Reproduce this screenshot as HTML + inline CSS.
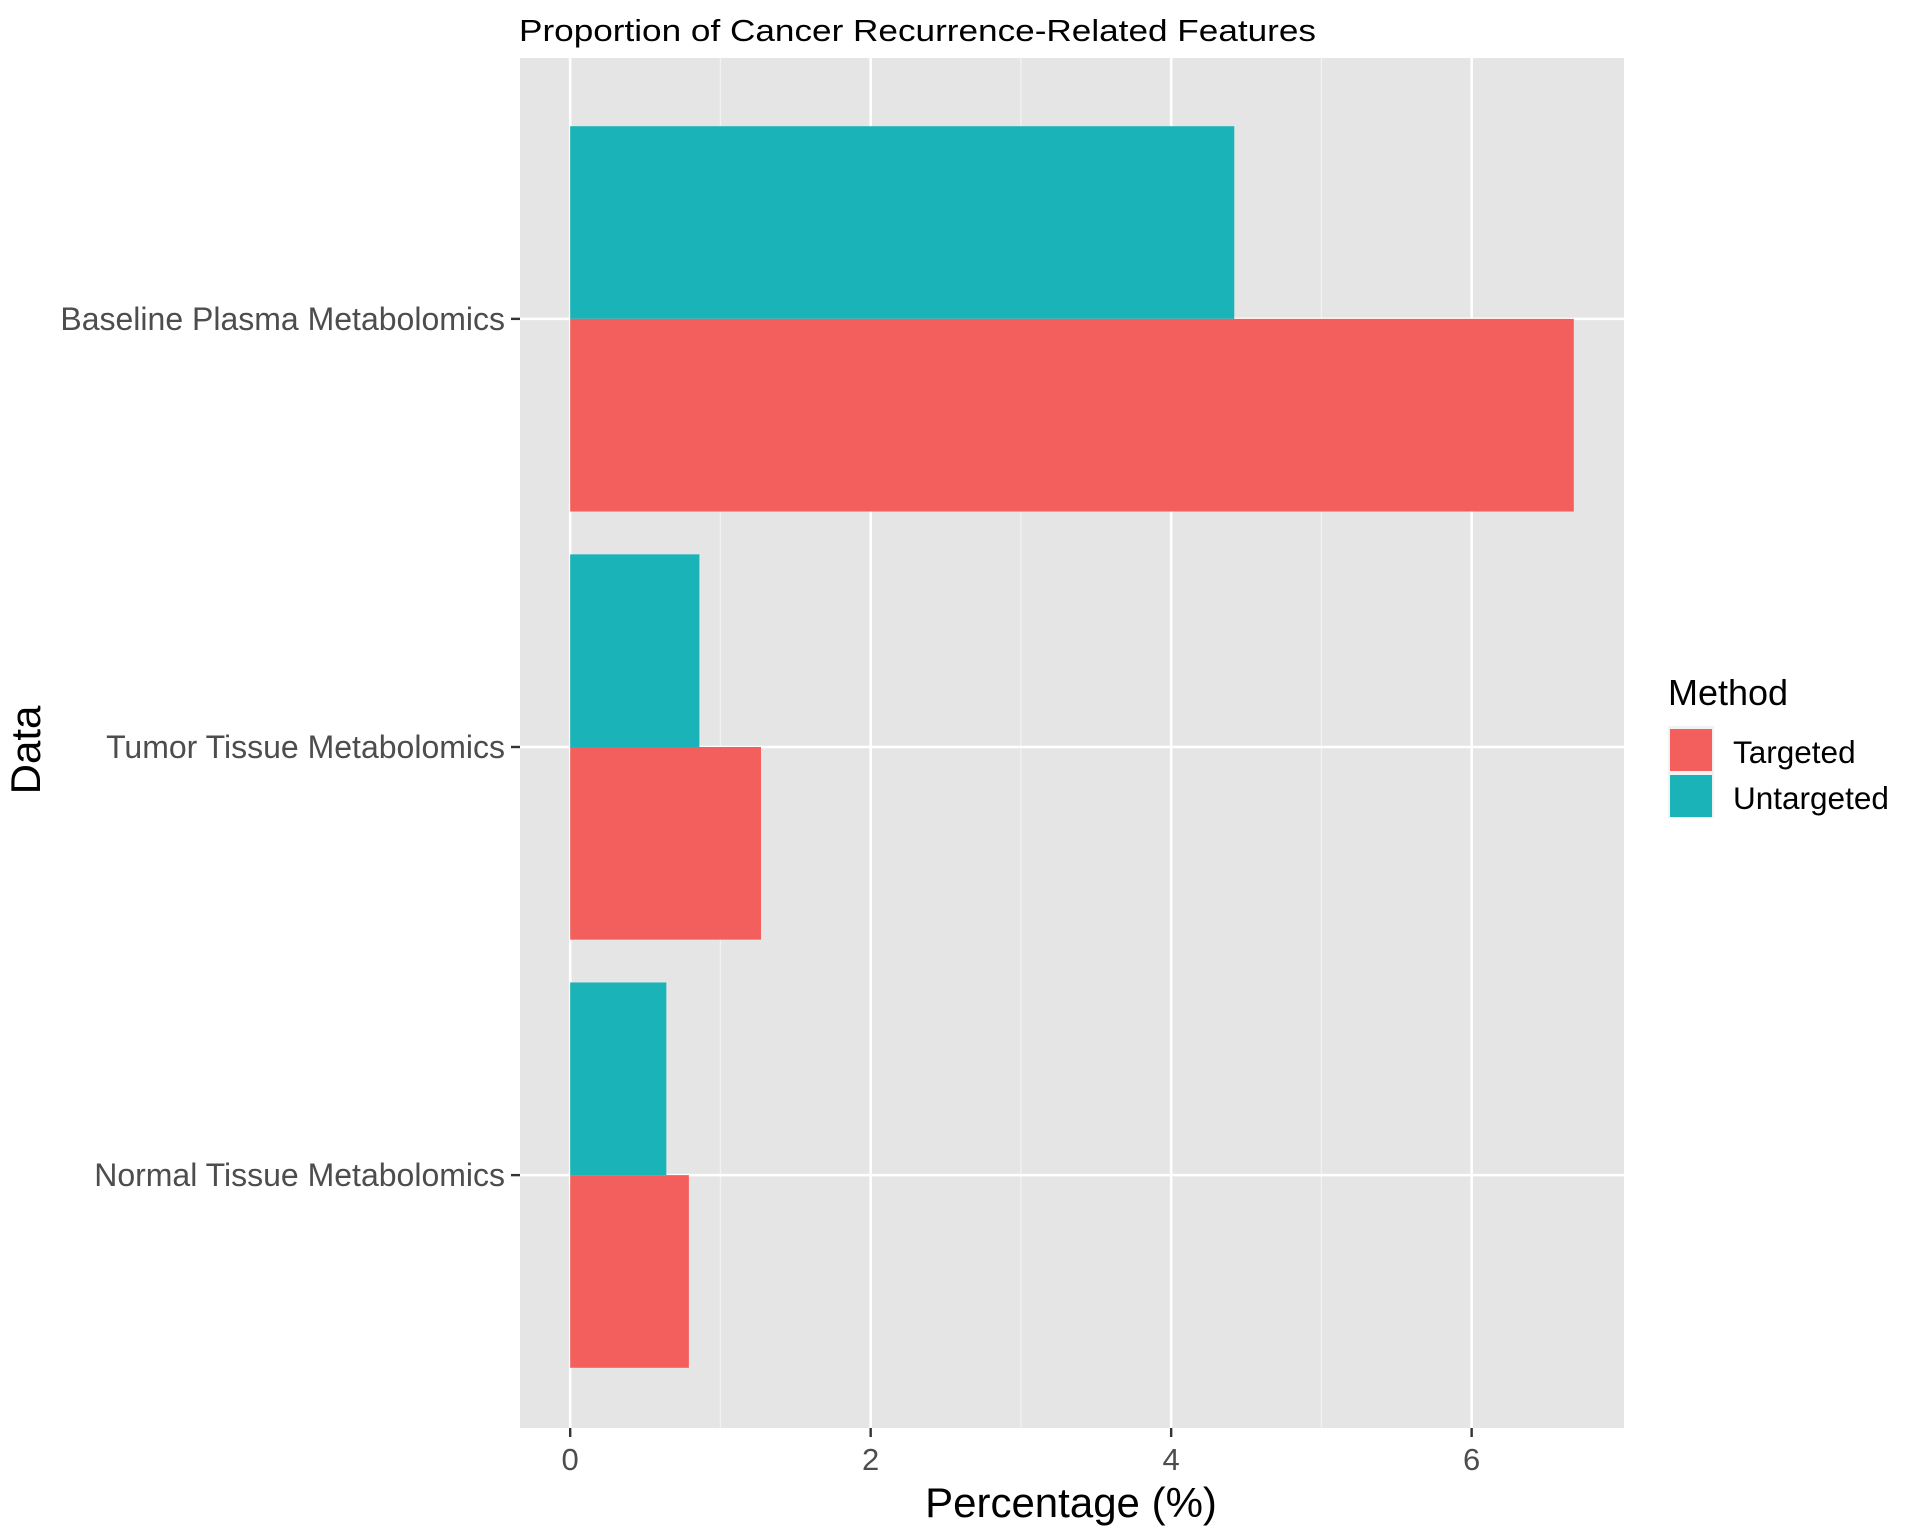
<!DOCTYPE html>
<html><head><meta charset="utf-8"><style>
html,body{margin:0;padding:0;background:#fff;}
svg{display:block;font-family:"Liberation Sans",Arial,sans-serif;}
</style></head><body>
<svg id="chart" width="1920" height="1536" viewBox="0 0 1920 1536">
<rect width="1920" height="1536" fill="#fff"/>
<text x="519" y="41" font-size="31" fill="#000" textLength="797" lengthAdjust="spacingAndGlyphs">Proportion of Cancer Recurrence-Related Features</text>
<rect x="520" y="58" width="1104" height="1370" fill="#e5e5e5"/>
<g id="grid"></g>
<g id="bars"></g>
<g id="axes"></g>
<text transform="translate(40,750) rotate(-90)" text-anchor="middle" font-size="42" fill="#000">Data</text>
<text x="1071" y="1517" text-anchor="middle" font-size="42" fill="#000">Percentage (%)</text>
<g>
<text x="1668" y="705" font-size="36" fill="#000">Method</text>
<rect x="1668" y="726" width="46" height="92" fill="#f2f2f2"/>
<rect x="1670" y="729" width="42" height="42" fill="#F35F5C"/>
<rect x="1670" y="775" width="42" height="42" fill="#1AB3B7"/>
<text x="1733" y="763" font-size="31.5" fill="#000">Targeted</text>
<text x="1733" y="809" font-size="31.5" fill="#000">Untargeted</text>
</g>
</svg>
<script>
const categories = ["Baseline Plasma Metabolomics","Tumor Tissue Metabolomics","Normal Tissue Metabolomics"];
const targeted = [6.68, 1.27, 0.79];
const untargeted = [4.42, 0.86, 0.64];
const xTicks = [0, 2, 4, 6];
const xMinor = [1, 3, 5];

const NS = "http://www.w3.org/2000/svg";
const panel = {l:520, r:1624, t:58, b:1428};
const xmin = -0.334, xmax = 7.014;
function xs(v){ return panel.l + (v - xmin) / (xmax - xmin) * (panel.r - panel.l); }
const band = (panel.b - panel.t) / 3.2;
function ys(i){ return panel.t + 4 + band * (0.6 + i); }
function mk(tag, attrs, parent){ const e=document.createElementNS(NS,tag); for(const k in attrs) e.setAttribute(k,attrs[k]); parent.appendChild(e); return e; }

const grid = document.getElementById("grid");
const bars = document.getElementById("bars");
const axes = document.getElementById("axes");

xMinor.forEach(v=>{
  const l = mk("line",{x1:xs(v),x2:xs(v),y1:panel.t,y2:panel.b,stroke:"#f2f2f2","stroke-width":1.3},grid);
  
  
});
xTicks.forEach(v=>{
  const l = mk("line",{x1:xs(v),x2:xs(v),y1:panel.t,y2:panel.b,stroke:"#fff","stroke-width":2.6},grid);
  
  
  const t = mk("line",{x1:xs(v),x2:xs(v),y1:panel.b,y2:panel.b+9,stroke:"#333","stroke-width":2.4},axes);
  
  
  const tx = mk("text",{x:xs(v),y:panel.b+42,"text-anchor":"middle","font-size":31,fill:"#4d4d4d"},axes);
  tx.textContent = String(v);
  
  
});
categories.forEach((c,i)=>{
  const y = ys(i);
  const g = mk("line",{x1:panel.l,x2:panel.r,y1:y,y2:y,stroke:"#fff","stroke-width":2.6},grid);
  
  
  const half = band*0.45;
  const u = mk("rect",{x:xs(0),y:y-half,width:xs(untargeted[i])-xs(0),height:half,fill:"#1AB3B7"},bars);
  
  
  const r = mk("rect",{x:xs(0),y:y,width:xs(targeted[i])-xs(0),height:half,fill:"#F35F5C"},bars);
  
  
  const t = mk("line",{x1:panel.l-9,x2:panel.l,y1:y,y2:y,stroke:"#333","stroke-width":2.4},axes);
  
  
  const tx = mk("text",{x:panel.l-15,y:y+11,"text-anchor":"end","font-size":32,fill:"#4d4d4d"},axes);
  tx.textContent = c;
  
  
});
</script>
</body></html>
